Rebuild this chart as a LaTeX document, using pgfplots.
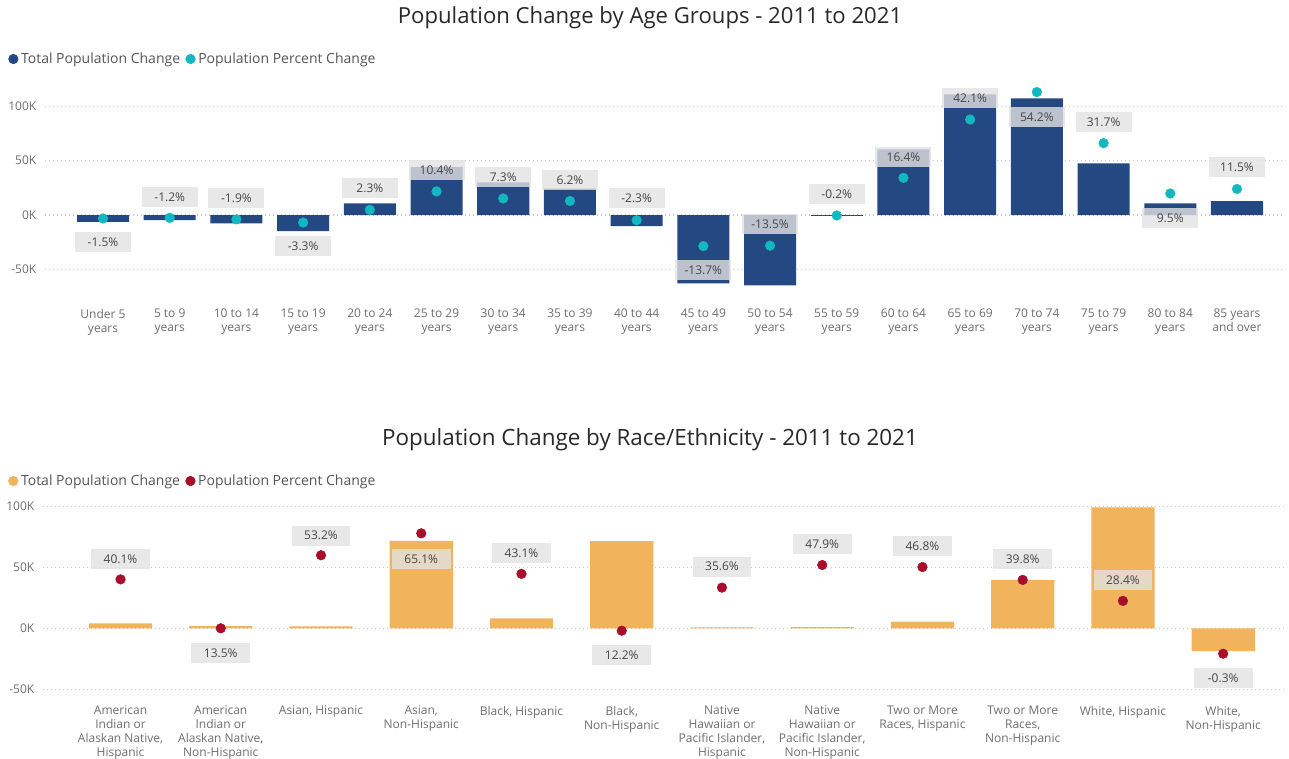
\documentclass[border=0pt]{standalone}
\usepackage{fontspec}
\setmainfont{Open Sans}
\usepackage{pgfplots}
\usepackage{pgfplotstable}
\pgfplotsset{compat=1.18}
\definecolor{navycol}{RGB}{36,73,130}
\definecolor{tealcol}{RGB}{18,184,192}
\definecolor{orangecol}{RGB}{241,180,92}
\definecolor{redcol}{RGB}{168,14,44}
\definecolor{lblfill}{RGB}{226,226,226}
\definecolor{gridcol}{RGB}{200,200,200}
\definecolor{tickcol}{RGB}{110,110,110}
\definecolor{lbltext}{RGB}{70,70,70}
\definecolor{legtext}{RGB}{85,85,85}
\definecolor{titlecol}{RGB}{40,40,40}

% x = category index, val = total change (thousands), pct = percent change, ly = label position (percent axis)
\pgfplotstableread{
x val pct ly
0 -6.2 -1.5 -11.76
1 -4.6 -1.2 8.06
2 -7.6 -1.9 7.62
3 -14.7 -3.3 -13.66
4 10.8 2.3 11.76
5 44.0 10.4 19.82
6 30.0 7.3 16.87
7 24.3 6.2 15.42
8 -10.1 -2.3 7.36
9 -62.8 -13.7 -24.2
10 -64.6 -13.5 -3.96
11 -0.8 -0.2 9.25
12 60.4 16.4 25.7
13 111.0 42.1 51.4
14 107.3 54.2 43.3
15 47.5 31.7 41.1
16 10.8 9.5 -1.19
17 12.9 11.5 21.0
}\agetable

\pgfplotstableread{
x val pct ly
0 4.1 40.1 50.98
1 1.9 13.5 -0.08
2 1.5 53.2 63.8
3 71.8 65.1 50.98
4 8.2 43.1 54.24
5 71.6 12.2 -1.0
6 0.8 35.6 46.96
7 1.0 47.9 59.13
8 5.4 46.8 58.2
9 39.6 39.8 50.98
10 99.2 28.4 39.74
11 -18.6 -0.3 -13.66
}\racetable

\pgfplotsset{
  base/.style={
    scale only axis,
    axis line style={draw=none},
    major tick length=0pt,
    ymajorgrids,
    grid style={gridcol, line width=0.9pt, dash pattern=on 0.9pt off 2.1pt},
    tick label style={font=\fontsize{9}{10.5}\selectfont, text=tickcol},
    xticklabel style={align=center, anchor=north},
    yticklabel style={anchor=east, xshift=-3pt},
    ytick={-50,0,50,100},
    yticklabels={-50K,0K,50K,100K},
  },
  pctaxis/.style={
    scale only axis, hide axis, clip=false,
    legend columns=2,
    legend cell align=left,
    legend style={draw=none, fill=none, inner sep=0pt,
      font=\fontsize{10.5}{12}\selectfont, text=legtext,
      /tikz/every even column/.append style={column sep=2pt}},
  },
  lbl/.style={
    draw=none, mark=none, forget plot,
    point meta=explicit,
    nodes near coords={\pgfmathprintnumber[fixed,fixed zerofill,precision=1,assume math mode=true]{\pgfplotspointmeta}\%},
    nodes near coords align={anchor=center},
    every node near coord/.append style={anchor=center, fill=lblfill, fill opacity=0.8, text opacity=1,
      text=lbltext, font=\fontsize{9}{10}\selectfont, minimum width=#1, minimum height=15pt, inner sep=0pt},
  },
}

\begin{document}
\begin{tikzpicture}
\path[use as bounding box] (0,0) rectangle (966.75pt,568.5pt);

\node[font=\fontsize{16.6}{19}\selectfont, text=titlecol] at (487.5pt,555pt) {Population Change by Age Groups - 2011 to 2021};
\node[font=\fontsize{16.8}{19}\selectfont, text=titlecol] at (487.5pt,238.5pt) {Population Change by Race/Ethnicity - 2011 to 2021};

% ---------- Top chart ----------
\begin{axis}[base,
  at={(33.75pt,350.1pt)}, anchor=south west,
  width=930pt, height=155pt,
  xmin=-0.87, xmax=17.72, ymin=-70, ymax=120,
  xtick={0,...,17},
  xticklabel style={yshift=-10pt},
  xticklabels={{Under 5\\years},{5 to 9\\years},{10 to 14\\years},{15 to 19\\years},{20 to 24\\years},{25 to 29\\years},{30 to 34\\years},{35 to 39\\years},{40 to 44\\years},{45 to 49\\years},{50 to 54\\years},{55 to 59\\years},{60 to 64\\years},{65 to 69\\years},{70 to 74\\years},{75 to 79\\years},{80 to 84\\years},{85 years\\and over}},
]
\addplot[ybar, bar width=0.78, fill=navycol, draw=none] table[x=x,y=val]{\agetable};
\end{axis}
\begin{axis}[pctaxis,
  at={(33.75pt,350.1pt)}, anchor=south west,
  width=930pt, height=155pt,
  xmin=-0.87, xmax=17.72, ymin=-33.55, ymax=57.52,
  legend style={at={(axis description cs:-0.0298,1.1234)}, anchor=west},
]
\addlegendimage{legend image code/.code={\fill[navycol] (0.12cm,0) circle (3.6pt);}}
\addlegendentry{Total Population Change}
\addlegendimage{legend image code/.code={\fill[tealcol] (0.12cm,0) circle (3.6pt);}}
\addlegendentry{Population Percent Change}
\addplot[lbl=42pt] table[x=x,y=ly,meta=pct]{\agetable};
\addplot[only marks, mark=*, mark size=3.6pt, color=tealcol, forget plot] table[x=x,y=pct]{\agetable};
\end{axis}

% ---------- Bottom chart ----------
\begin{axis}[base,
  at={(32.25pt,42.45pt)}, anchor=south west,
  width=931.5pt, height=155.3pt,
  xmin=-0.7735, xmax=11.6168, ymin=-60, ymax=110,
  xtick={0,...,11},
  xticklabel style={yshift=0pt},
  xticklabels={{American\\Indian or\\Alaskan Native,\\Hispanic},{American\\Indian or\\Alaskan Native,\\Non-Hispanic},{Asian, Hispanic},{Asian,\\Non-Hispanic},{Black, Hispanic},{Black,\\Non-Hispanic},{Native\\Hawaiian or\\Pacific Islander,\\Hispanic},{Native\\Hawaiian or\\Pacific Islander,\\Non-Hispanic},{Two or More\\Races, Hispanic},{Two or More\\Races,\\Non-Hispanic},{White, Hispanic},{White,\\Non-Hispanic}},
]
\addplot[ybar, bar width=0.63, fill=orangecol, draw=none] table[x=x,y=val]{\racetable};
\end{axis}
\begin{axis}[pctaxis,
  at={(32.25pt,42.45pt)}, anchor=south west,
  width=931.5pt, height=155.3pt,
  xmin=-0.7735, xmax=11.6168, ymin=-26.20, ymax=86.28,
  legend style={at={(axis description cs:-0.0282,1.0644)}, anchor=west},
]
\addlegendimage{legend image code/.code={\fill[orangecol] (0.12cm,0) circle (3.6pt);}}
\addlegendentry{Total Population Change}
\addlegendimage{legend image code/.code={\fill[redcol] (0.12cm,0) circle (3.6pt);}}
\addlegendentry{Population Percent Change}
\addplot[lbl=44pt] table[x=x,y=ly,meta=pct]{\racetable};
\addplot[only marks, mark=*, mark size=3.6pt, color=redcol, forget plot] table[x=x,y=pct]{\racetable};
\end{axis}
\end{tikzpicture}
\end{document}
